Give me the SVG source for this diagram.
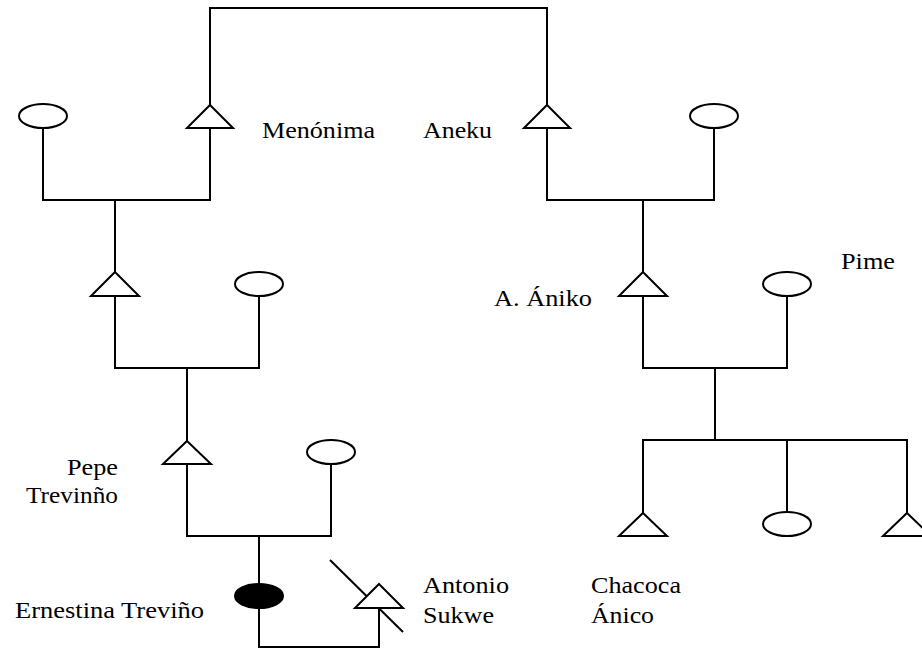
<svg xmlns="http://www.w3.org/2000/svg" width="922" height="657" viewBox="0 0 922 657">
  <style>
    .line { fill: none; stroke: #000; stroke-width: 2; stroke-linejoin: miter; stroke-linecap: square; }
    .male { fill: #fff; stroke: #000; stroke-width: 2; stroke-linejoin: miter; }
    .female { fill: #fff; stroke: #000; stroke-width: 2; }
    .female-ego { fill: #000; stroke: #000; stroke-width: 2; }
    .name { font-family: "Liberation Serif", "Times New Roman", serif; font-size: 24px; fill: #000; }
  </style>
  <rect x="0" y="0" width="922" height="657" fill="#fff"/>

  <!-- kinship connectors -->
  <g id="connectors" class="line">
    <!-- marriage line across the top -->
    <path d="M210,105 V8 H547 V105"/>
    <!-- left grandparents and their son -->
    <path d="M43,128 V200 H210 V128"/>
    <path d="M115,200 V272"/>
    <!-- right grandparents and their son -->
    <path d="M547,128 V200 H714 V128"/>
    <path d="M643,200 V272"/>
    <!-- left parents and son -->
    <path d="M115,296 V368 H259 V296"/>
    <path d="M187,368 V441"/>
    <!-- A. Ániko and Pime with their children -->
    <path d="M643,296 V368 H787 V296"/>
    <path d="M715,368 V440"/>
    <path d="M643,513 V440 H907 V513"/>
    <path d="M787,440 V512"/>
    <!-- Pepe and wife, daughter -->
    <path d="M187,464 V536 H331 V464"/>
    <path d="M259,536 V584"/>
    <!-- Ernestina and Antonio -->
    <path d="M259,608 V647 H379 V608"/>
    <!-- deceased mark -->
    <path d="M330,560 L403,632" stroke-linecap="butt"/>
  </g>

  <!-- people -->
  <g id="n-f1"><ellipse class="female" cx="43" cy="116" rx="24" ry="12"/></g>
  <g id="n-menonima"><polygon class="male" points="210,105 233,128 187,128"/></g>
  <g id="n-aneku"><polygon class="male" points="547,105 570,128 524,128"/></g>
  <g id="n-f2"><ellipse class="female" cx="714" cy="116" rx="24" ry="12"/></g>
  <g id="n-m3"><polygon class="male" points="115,272 139,296 91,296"/></g>
  <g id="n-f3"><ellipse class="female" cx="259" cy="284" rx="24" ry="12"/></g>
  <g id="n-aniko"><polygon class="male" points="643,272 667,296 619,296"/></g>
  <g id="n-pime"><ellipse class="female" cx="787" cy="284" rx="24" ry="12"/></g>
  <g id="n-pepe"><polygon class="male" points="187,441 211,464 163,464"/></g>
  <g id="n-f5"><ellipse class="female" cx="331" cy="452" rx="24" ry="12"/></g>
  <g id="n-ernestina"><ellipse class="female-ego" cx="259" cy="596" rx="24" ry="12"/></g>
  <g id="n-antonio"><polygon class="male" points="379,584 403,608 355,608"/></g>
  <g id="n-chacoca"><polygon class="male" points="643,513 667,536 619,536"/></g>
  <g id="n-f7"><ellipse class="female" cx="787" cy="524" rx="24" ry="12"/></g>
  <g id="n-m8"><polygon class="male" points="907,513 931,536 883,536"/></g>

  <!-- names, each pinned to its printed width -->
  <g id="labels">
    <text class="name" x="262" y="138" textLength="113" lengthAdjust="spacingAndGlyphs">Menónima</text>
    <text class="name" x="423" y="138" textLength="69" lengthAdjust="spacingAndGlyphs">Aneku</text>
    <text class="name" x="841" y="269" textLength="54" lengthAdjust="spacingAndGlyphs">Pime</text>
    <text class="name" x="494" y="306" textLength="98" lengthAdjust="spacingAndGlyphs">A. Ániko</text>
    <text class="name" x="67" y="475" textLength="51" lengthAdjust="spacingAndGlyphs">Pepe</text>
    <text class="name" x="26" y="503" textLength="92" lengthAdjust="spacingAndGlyphs">Trevinño</text>
    <text class="name" x="15" y="618" textLength="189" lengthAdjust="spacingAndGlyphs">Ernestina Treviño</text>
    <text class="name" x="423" y="593" textLength="86" lengthAdjust="spacingAndGlyphs">Antonio</text>
    <text class="name" x="423" y="623" textLength="71" lengthAdjust="spacingAndGlyphs">Sukwe</text>
    <text class="name" x="591" y="593" textLength="90" lengthAdjust="spacingAndGlyphs">Chacoca</text>
    <text class="name" x="591" y="623" textLength="63" lengthAdjust="spacingAndGlyphs">Ánico</text>
  </g>
</svg>
